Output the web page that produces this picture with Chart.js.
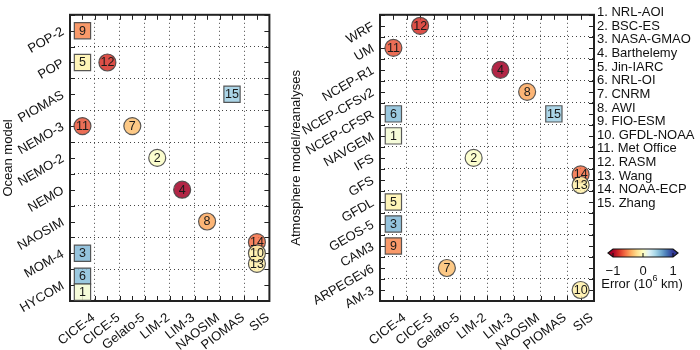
<!DOCTYPE html>
<html>
<head>
<meta charset="utf-8">
<script src="https://cdn.jsdelivr.net/npm/chart.js@4.4.0/dist/chart.umd.min.js"></script>
<style>
  body { margin: 0; background: #fff; }
  #wrap { position: relative; width: 700px; height: 350px; }
  #oceanChart { position: absolute; left: 0; top: 0; }
  #atmChart { position: absolute; left: 288px; top: 0; }
</style>
</head>
<body>
<div id="wrap">
  <canvas id="oceanChart" width="288" height="350"></canvas>
  <canvas id="atmChart" width="412" height="350"></canvas>
</div>
<script>
// axis categories (y lists run bottom -> top)
const iceModels = ["CICE-4", "CICE-5", "Gelato-5", "LIM-2", "LIM-3", "NAOSIM", "PIOMAS", "SIS"];
const oceanModels = ["HYCOM", "MOM-4", "NAOSIM", "NEMO", "NEMO-2", "NEMO-3", "PIOMAS", "POP", "POP-2"];
const atmosModels = ["AM-3", "ARPEGEv6", "CAM3", "GEOS-5", "GFDL", "GFS", "IFS", "NAVGEM",
  "NCEP-CFSR", "NCEP-CFSv2", "NCEP-R1", "UM", "WRF"];

// contributions, numbered 1..15
const contributors = ["NRL-AOI", "BSC-ES", "NASA-GMAO", "Barthelemy", "Jin-IARC", "NRL-OI", "CNRM", "AWI",
  "FIO-ESM", "GFDL-NOAA", "Met Office", "RASM", "Wang", "NOAA-ECP", "Zhang"];
const contribIce = ["CICE-4", "LIM-2", "CICE-4", "LIM-3", "CICE-4", "CICE-4", "Gelato-5", "NAOSIM",
  "CICE-4", "SIS", "CICE-4", "CICE-5", "SIS", "SIS", "PIOMAS"];
const contribOcean = ["HYCOM", "NEMO-2", "MOM-4", "NEMO", "POP", "HYCOM", "NEMO-3", "NAOSIM",
  "POP-2", "MOM-4", "NEMO-3", "POP", "MOM-4", "MOM-4", "PIOMAS"];
const contribAtmos = ["NAVGEM", "IFS", "GEOS-5", "NCEP-R1", "GFDL", "NCEP-CFSR", "ARPEGEv6", "NCEP-CFSv2",
  "CAM3", "AM-3", "UM", "WRF", "GFS", "GFS", "NCEP-CFSR"];
// error, 10^6 km
const errors = [0.07, 0.02, 0.55, -1.1, -0.08, 0.52, -0.33, -0.42, -0.52, -0.1, -0.68, -0.8, -0.1, -0.6, 0.45];
const squareMarker = [true, false, true, false, true, true, false, false, true, false, false, false, false, false, true];
// nudges for contributions sharing a cell
const oceanNudge = [-0.22, 0, 0, 0, 0, 0.28, 0, 0, 0, 0, 0, 0, -0.33, 0.35, 0];
const atmosNudge = [0, 0, 0, 0, 0, 0, 0, 0, 0, 0, 0, 0, -0.23, 0.25, 0];

const colorTicks = [-1, 0, 1];

Chart.defaults.font.family = '"Liberation Sans", Arial, sans-serif';
Chart.defaults.font.size = 13;
Chart.defaults.color = "#111";

const rdylbu = ["#a50026", "#d73027", "#f46d43", "#fdae61", "#fee090", "#ffffbf",
  "#e0f3f8", "#abd9e9", "#74add1", "#4575b4", "#313695"];

function hexRgb(h) {
  return [1, 3, 5].map(i => parseInt(h.slice(i, i + 2), 16));
}

function errColor(v, a) {
  const t = (Math.max(-1, Math.min(1, v)) + 1) / 2 * 10;
  const i = Math.min(9, Math.floor(t));
  const f = t - i;
  const c0 = hexRgb(rdylbu[i]), c1 = hexRgb(rdylbu[i + 1]);
  const c = c0.map((c, k) => Math.round(c + (c1[k] - c) * f));
  return `rgba(${c[0]},${c[1]},${c[2]},${a})`;
}

function makeDatasets(rowList, rowOf, nudge) {
  return contributors.map((name, i) => ({
    label: String(i + 1),
    data: [{ x: iceModels.indexOf(contribIce[i]), y: rowList.indexOf(rowOf[i]) + nudge[i] }],
    pointStyle: squareMarker[i] ? "rect" : "circle",
    pointRadius: squareMarker[i] ? 11.5 : 8.5,
    pointHoverRadius: squareMarker[i] ? 11.5 : 8.5,
    backgroundColor: errColor(errors[i], 0.85),
    borderColor: "rgba(70,70,70,0.9)",
    borderWidth: 1.2,
  }));
}

function halfSteps(scale) {
  scale.ticks = [];
  for (let v = scale.min; v <= scale.max + 1e-9; v += 0.5) scale.ticks.push({ value: v });
}

const gridColor = ctx => (ctx.tick && !Number.isInteger(ctx.tick.value)) ? "#444" : "rgba(0,0,0,0)";

// frame, inward ticks and the numbers inside markers
const framePlugin = {
  id: "frame",
  beforeDatasetsDraw(chart) {
    const { ctx, chartArea: a, scales: { x, y } } = chart;
    ctx.save();
    ctx.strokeStyle = "#222";
    ctx.lineWidth = 1;
    ctx.beginPath();
    x.ticks.forEach(t => {
      const px = Math.round(x.getPixelForValue(t.value)) + 0.5;
      ctx.moveTo(px, a.bottom); ctx.lineTo(px, a.bottom - 5);
      ctx.moveTo(px, a.top); ctx.lineTo(px, a.top + 5);
    });
    y.ticks.forEach(t => {
      const py = Math.round(y.getPixelForValue(t.value)) + 0.5;
      ctx.moveTo(a.left, py); ctx.lineTo(a.left + 5, py);
      ctx.moveTo(a.right, py); ctx.lineTo(a.right - 5, py);
    });
    ctx.stroke();
    ctx.lineWidth = 2;
    ctx.strokeRect(a.left, a.top, a.right - a.left, a.bottom - a.top);
    ctx.restore();
  },
  afterDatasetsDraw(chart) {
    const ctx = chart.ctx;
    ctx.save();
    ctx.font = '12.5px "Liberation Sans", Arial, sans-serif';
    ctx.fillStyle = "#1a1a1a";
    ctx.textAlign = "center";
    ctx.textBaseline = "middle";
    chart.data.datasets.forEach((ds, i) => {
      const pt = chart.getDatasetMeta(i).data[0];
      ctx.fillText(ds.label, pt.x, pt.y + 0.5);
    });
    ctx.restore();
  }
};

// contributor list and error colour bar at the right
const keyPlugin = {
  id: "key",
  afterDraw(chart) {
    const ctx = chart.ctx;
    ctx.save();
    ctx.font = '13px "Liberation Sans", Arial, sans-serif';
    ctx.fillStyle = "#111";
    ctx.textAlign = "left";
    ctx.textBaseline = "middle";
    contributors.forEach((name, i) => ctx.fillText((i + 1) + ". " + name, 309, 12.5 + i * 13.64));

    const x0 = 325, x1 = 385, y0 = 249, y1 = 257, tip = 5;
    const grad = ctx.createLinearGradient(x0, 0, x1, 0);
    rdylbu.forEach((c, i) => grad.addColorStop(i / 10, c));
    ctx.fillStyle = grad;
    ctx.fillRect(x0, y0, x1 - x0, y1 - y0);
    ctx.fillStyle = rdylbu[0];
    ctx.beginPath(); ctx.moveTo(x0, y0); ctx.lineTo(x0 - tip, (y0 + y1) / 2); ctx.lineTo(x0, y1); ctx.fill();
    ctx.fillStyle = rdylbu[10];
    ctx.beginPath(); ctx.moveTo(x1, y0); ctx.lineTo(x1 + tip, (y0 + y1) / 2); ctx.lineTo(x1, y1); ctx.fill();
    ctx.strokeStyle = "#111";
    ctx.lineWidth = 1.2;
    ctx.beginPath();
    ctx.moveTo(x0, y0); ctx.lineTo(x1, y0); ctx.lineTo(x1 + tip, (y0 + y1) / 2); ctx.lineTo(x1, y1);
    ctx.lineTo(x0, y1); ctx.lineTo(x0 - tip, (y0 + y1) / 2); ctx.closePath();
    ctx.stroke();

    ctx.lineWidth = 1;
    ctx.fillStyle = "#111";
    ctx.textAlign = "center";
    colorTicks.forEach(v => {
      const px = x0 + (v + 1) / 2 * (x1 - x0);
      ctx.beginPath(); ctx.moveTo(px, y1); ctx.lineTo(px, y1 - 4); ctx.stroke();
      ctx.fillText(v < 0 ? "\u2212" + Math.abs(v) : String(v), px, 271);
    });

    const a = "Error (10", b = "6", c = " km)";
    const wa = ctx.measureText(a).width, wc = ctx.measureText(c).width;
    ctx.font = '9px "Liberation Sans", Arial, sans-serif';
    const wb = ctx.measureText(b).width;
    let sx = 354 - (wa + wb + wc) / 2;
    ctx.textAlign = "left";
    ctx.font = '13px "Liberation Sans", Arial, sans-serif';
    ctx.fillText(a, sx, 284);
    ctx.font = '9px "Liberation Sans", Arial, sans-serif';
    ctx.fillText(b, sx + wa, 279);
    ctx.font = '13px "Liberation Sans", Arial, sans-serif';
    ctx.fillText(c, sx + wa + wb, 284);
    ctx.restore();
  }
};

function buildChart(id, rowList, rowOf, nudge, yTitle, yWidth, rightPad, extra) {
  return new Chart(document.getElementById(id), {
    type: "scatter",
    data: { datasets: makeDatasets(rowList, rowOf, nudge) },
    options: {
      responsive: false,
      animation: false,
      layout: { padding: { left: 0, top: 3, right: rightPad, bottom: 0 } },
      plugins: { legend: { display: false }, tooltip: { enabled: false } },
      scales: {
        x: {
          type: "linear",
          min: -0.5,
          max: iceModels.length - 0.5,
          afterBuildTicks: halfSteps,
          afterFit: s => { s.height = 49; },
          grid: { color: gridColor, lineWidth: 1, drawTicks: false },
          border: { display: false, dash: [1, 3] },
          ticks: {
            autoSkip: false,
            minRotation: 38,
            maxRotation: 38,
            padding: 9,
            labelOffset: 11,
            color: "#111",
            callback: v => Number.isInteger(v) ? iceModels[v] : "",
          },
        },
        y: {
          type: "linear",
          min: -0.5,
          max: rowList.length - 0.5,
          afterBuildTicks: halfSteps,
          afterFit: s => { s.width = yWidth; },
          grid: { color: gridColor, lineWidth: 1, drawTicks: false },
          border: { display: false, dash: [1, 3] },
          title: { display: true, text: yTitle, color: "#111", font: { size: 13 }, padding: { top: 1, bottom: 0 } },
          ticks: {
            autoSkip: false,
            minRotation: 30,
            maxRotation: 30,
            padding: 7,
            color: "#111",
            callback: v => Number.isInteger(v) ? rowList[v] : "",
          },
        },
      },
    },
    plugins: [framePlugin].concat(extra),
  });
}

buildChart("oceanChart", oceanModels, contribOcean, oceanNudge, "Ocean model", 70, 4, []);
buildChart("atmChart", atmosModels, contribAtmos, atmosNudge, "Atmosphere model/reanalyses", 92, 106, [keyPlugin]);
</script>
</body>
</html>
